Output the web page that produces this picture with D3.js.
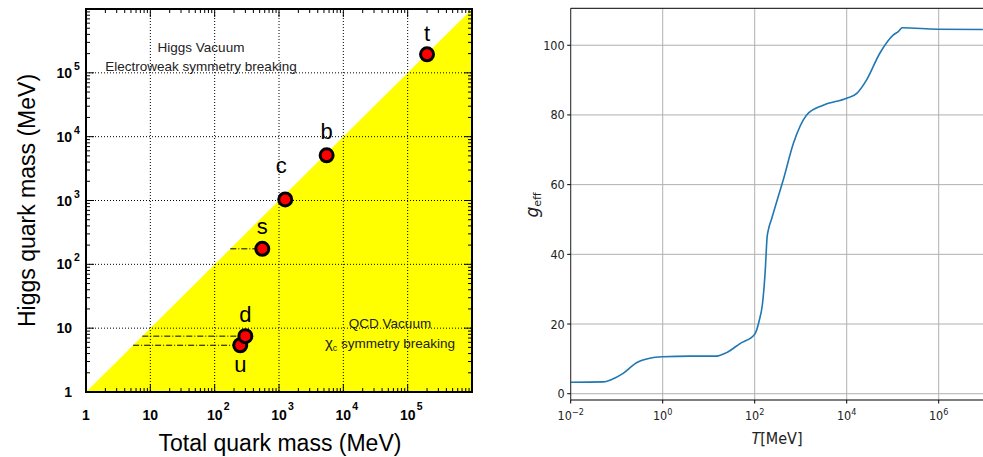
<!DOCTYPE html>
<html>
<head>
<meta charset="utf-8">
<script src="https://cdn.jsdelivr.net/npm/d3@7"></script>
<style>
  body { margin: 0; background: #fff; }
  svg { display: block; }
</style>
</head>
<body>
<div id="chart"></div>
<script>
// Left panel: quark masses (MeV)
const quarks = ["u", "d", "s", "c", "b", "t"]
const totalMass = [250, 300, 550, 1250, 5500, 200000]
const higgsMass = [5.4, 7.5, 175, 1040, 5100, 195000]
const massTickExp = [0, 1, 2, 3, 4, 5]

// Right panel: g_eff vs temperature (log10 T in MeV)
const logT = [-2, -1.29, -1.11, -0.86, -0.57, -0.28, 0, 0.59, 1.17, 1.39, 1.68, 2.0, 2.1, 2.17,
  2.23, 2.27, 2.297, 2.37, 2.51, 2.62, 2.84, 3.13, 3.49, 4.0, 4.22, 4.43, 4.72, 5.01, 5.12,
  5.21, 5.96, 6.96]
const gEff = [3.3, 3.4, 4.1, 5.85, 8.9, 10.2, 10.6, 10.8, 10.8, 11.8, 14.4, 17.1, 21.1, 25.9,
  35.5, 45, 47, 50.3, 56.5, 61.3, 71.8, 80, 82.8, 84.8, 86.2, 90, 97.7, 102.9, 103.9,
  105.0, 104.6, 104.5]
const tempTickExp = [-2, 0, 2, 4, 6]
const gTicks = [0, 20, 40, 60, 80, 100]

const width = 983
const height = 457

const svg = d3.select("#chart").append("svg")
  .attr("width", width)
  .attr("height", height)

// ---------- left panel ----------
const L = { left: 86, right: 472, top: 9, bottom: 392 }
const x = d3.scaleLog().domain([1, 1e6]).range([L.left, L.right])
const y = d3.scaleLog().domain([1, 1e6]).range([L.bottom, L.top])

const left = svg.append("g")
const labelFont = "'Liberation Sans', Arial, sans-serif"

// yellow region below the diagonal
left.append("path")
  .attr("d", d3.line()([[x(1), y(1)], [x(1e6), y(1e6)], [x(1e6), y(1)]]) + "Z")
  .attr("fill", "#ffff00")

// dotted grid
const gridVals = massTickExp.slice(1).map(e => Math.pow(10, e))
left.append("g").selectAll("line").data(gridVals).enter().append("line")
  .attr("x1", d => x(d)).attr("x2", d => x(d))
  .attr("y1", L.top).attr("y2", L.bottom)
  .attr("stroke", "#000").attr("stroke-width", 1).attr("stroke-dasharray", "1,2")
left.append("g").selectAll("line").data(gridVals).enter().append("line")
  .attr("y1", d => y(d)).attr("y2", d => y(d))
  .attr("x1", L.left).attr("x2", L.right)
  .attr("stroke", "#000").attr("stroke-width", 1).attr("stroke-dasharray", "1,2")

// ticks, inward on all four sides
const minor = []
for (let e = 0; e < 6; e++) for (let k = 2; k <= 9; k++) minor.push(k * Math.pow(10, e))
const major = d3.range(0, 7).map(e => Math.pow(10, e))
const tickG = left.append("g").attr("stroke", "#000").attr("stroke-width", 1)
function addTicks(vals, len) {
  vals.forEach(v => {
    tickG.append("line").attr("x1", x(v)).attr("x2", x(v)).attr("y1", L.bottom).attr("y2", L.bottom - len)
    tickG.append("line").attr("x1", x(v)).attr("x2", x(v)).attr("y1", L.top).attr("y2", L.top + len)
    tickG.append("line").attr("y1", y(v)).attr("y2", y(v)).attr("x1", L.left).attr("x2", L.left + len)
    tickG.append("line").attr("y1", y(v)).attr("y2", y(v)).attr("x1", L.right).attr("x2", L.right - len)
  })
}
addTicks(minor, 4)
addTicks(major, 8)

// dash-dot lines from the diagonal to each point
left.append("g").selectAll("line").data(quarks).enter().append("line")
  .attr("x1", (d, i) => x(higgsMass[i])).attr("x2", (d, i) => x(totalMass[i]))
  .attr("y1", (d, i) => y(higgsMass[i])).attr("y2", (d, i) => y(higgsMass[i]))
  .attr("stroke", "#000").attr("stroke-width", 1).attr("stroke-dasharray", "6,2,1,2")

// frame
left.append("rect")
  .attr("x", L.left).attr("y", L.top)
  .attr("width", L.right - L.left).attr("height", L.bottom - L.top)
  .attr("fill", "none").attr("stroke", "#000").attr("stroke-width", 2)

// tick labels
function powLabel(g, e, px, py, anchor, supDx, supDy) {
  g.append("text")
    .attr("x", px).attr("y", py)
    .attr("text-anchor", anchor)
    .attr("font-family", labelFont).attr("font-weight", "bold").attr("font-size", 14)
    .text(e === 0 ? "1" : "10")
  if (e > 1) {
    g.append("text")
      .attr("x", px + supDx).attr("y", py + supDy)
      .attr("font-family", labelFont).attr("font-weight", "bold").attr("font-size", 10.5)
      .text(e)
  }
}
massTickExp.forEach(e => {
  const v = Math.pow(10, e)
  powLabel(left, e, x(v), 420, "middle", 9, -10)
  powLabel(left, e, 72, y(v) + 5, "end", 2, -8)
})

// axis titles
left.append("text")
  .attr("x", 280).attr("y", 451)
  .attr("text-anchor", "middle")
  .attr("font-family", labelFont).attr("font-size", 23)
  .text("Total quark mass (MeV)")
left.append("text")
  .attr("transform", "translate(35," + ((L.top + L.bottom) / 2) + ") rotate(-90)")
  .attr("text-anchor", "middle")
  .attr("font-family", labelFont).attr("font-size", 23)
  .text("Higgs quark mass (MeV)")

// region annotations
function note(txt, px, py) {
  return left.append("text").attr("x", px).attr("y", py)
    .attr("text-anchor", "middle")
    .attr("font-family", labelFont).attr("font-size", 13.5)
    .attr("fill", "#222")
    .text(txt)
}
note("Higgs Vacuum", 201, 52)
note("Electroweak symmetry breaking", 201, 71)
note("QCD Vacuum", 390, 328)
const chi = note("", 390, 348)
chi.append("tspan").attr("font-size", 15).text("\u03c7")
chi.append("tspan").attr("font-size", 9).attr("dy", 3).text("c")
chi.append("tspan").attr("dy", -3).text(" symmetry breaking")

// points
left.append("g").selectAll("circle").data(quarks).enter().append("circle")
  .attr("cx", (d, i) => x(totalMass[i]))
  .attr("cy", (d, i) => y(higgsMass[i]))
  .attr("r", 6.5)
  .attr("fill", "#ff0000").attr("stroke", "#000").attr("stroke-width", 3)

// quark labels
const labelShift = { u: [0, 27], d: [0, -14], s: [0, -15], c: [-4, -26], b: [0, -16], t: [0, -13] }
left.append("g").selectAll("text").data(quarks).enter().append("text")
  .attr("x", (d, i) => x(totalMass[i]) + labelShift[d][0])
  .attr("y", (d, i) => y(higgsMass[i]) + labelShift[d][1])
  .attr("text-anchor", "middle")
  .attr("font-family", labelFont).attr("font-size", 22)
  .text(d => d)

// ---------- right panel ----------
const R = { left: 570.7, top: 8.3, bottom: 400 }
const xr = d3.scaleLog().domain([1e-2, 1e7]).range([R.left, R.left + 46 * 9])
const yr = d3.scaleLinear().domain([-1.8, 110.6]).range([R.bottom, R.top])
const right = svg.append("g")
const condFont = "'DejaVu Sans Condensed', 'DejaVu Sans', sans-serif"

const tempTicks = tempTickExp.map(e => Math.pow(10, e))
right.append("g").selectAll("line").data(tempTicks).enter().append("line")
  .attr("x1", d => xr(d)).attr("x2", d => xr(d))
  .attr("y1", R.top).attr("y2", R.bottom)
  .attr("stroke", "#b0b0b0").attr("stroke-width", 1)
right.append("g").selectAll("line").data(gTicks).enter().append("line")
  .attr("y1", d => yr(d)).attr("y2", d => yr(d))
  .attr("x1", R.left).attr("x2", width)
  .attr("stroke", "#b0b0b0").attr("stroke-width", 1)

const line = d3.line()
  .x((d, i) => xr(Math.pow(10, logT[i])))
  .y(d => yr(d))
  .curve(d3.curveMonotoneX)
right.append("path")
  .datum(gEff)
  .attr("d", line)
  .attr("fill", "none").attr("stroke", "#1f77b4").attr("stroke-width", 1.6)

// spines
right.append("line").attr("x1", R.left).attr("x2", R.left).attr("y1", R.top).attr("y2", R.bottom)
  .attr("stroke", "#333").attr("stroke-width", 1)
right.append("line").attr("x1", R.left).attr("x2", width).attr("y1", R.bottom).attr("y2", R.bottom)
  .attr("stroke", "#000").attr("stroke-width", 1)
right.append("line").attr("x1", R.left).attr("x2", width).attr("y1", R.top).attr("y2", R.top)
  .attr("stroke", "#000").attr("stroke-width", 1)

// ticks and labels
gTicks.forEach(v => {
  right.append("line").attr("x1", R.left - 3.5).attr("x2", R.left).attr("y1", yr(v)).attr("y2", yr(v))
    .attr("stroke", "#000")
  right.append("text").attr("x", R.left - 6).attr("y", yr(v) + 4.5)
    .attr("text-anchor", "end")
    .attr("font-family", condFont).attr("font-size", 12.5).attr("fill", "#222")
    .text(v)
})
tempTickExp.forEach(e => {
  const px = xr(Math.pow(10, e))
  right.append("line").attr("x1", px).attr("x2", px).attr("y1", R.bottom).attr("y2", R.bottom + 3.5)
    .attr("stroke", "#000")
  const t = right.append("text").attr("x", px).attr("y", 420)
    .attr("text-anchor", "middle")
    .attr("font-family", condFont).attr("font-size", 12.5).attr("fill", "#222")
  t.append("tspan").text("10")
  t.append("tspan").attr("dy", -5).attr("font-size", 9).text(e < 0 ? "\u2212" + (-e) : e)
})

// axis titles
const tl = right.append("text").attr("x", 777).attr("y", 444)
  .attr("text-anchor", "middle")
  .attr("font-family", condFont).attr("font-size", 16).attr("fill", "#222")
tl.append("tspan").attr("font-style", "italic").text("T")
tl.append("tspan").text("[MeV]")

const gl = right.append("text")
  .attr("transform", "translate(538,205) rotate(-90)")
  .attr("text-anchor", "middle")
  .attr("font-family", "'DejaVu Sans', sans-serif").attr("fill", "#222")
gl.append("tspan").attr("font-style", "italic").attr("font-size", 17).text("g")
gl.append("tspan").attr("font-size", 11).attr("dy", 3).text("eff")
</script>
</body>
</html>
